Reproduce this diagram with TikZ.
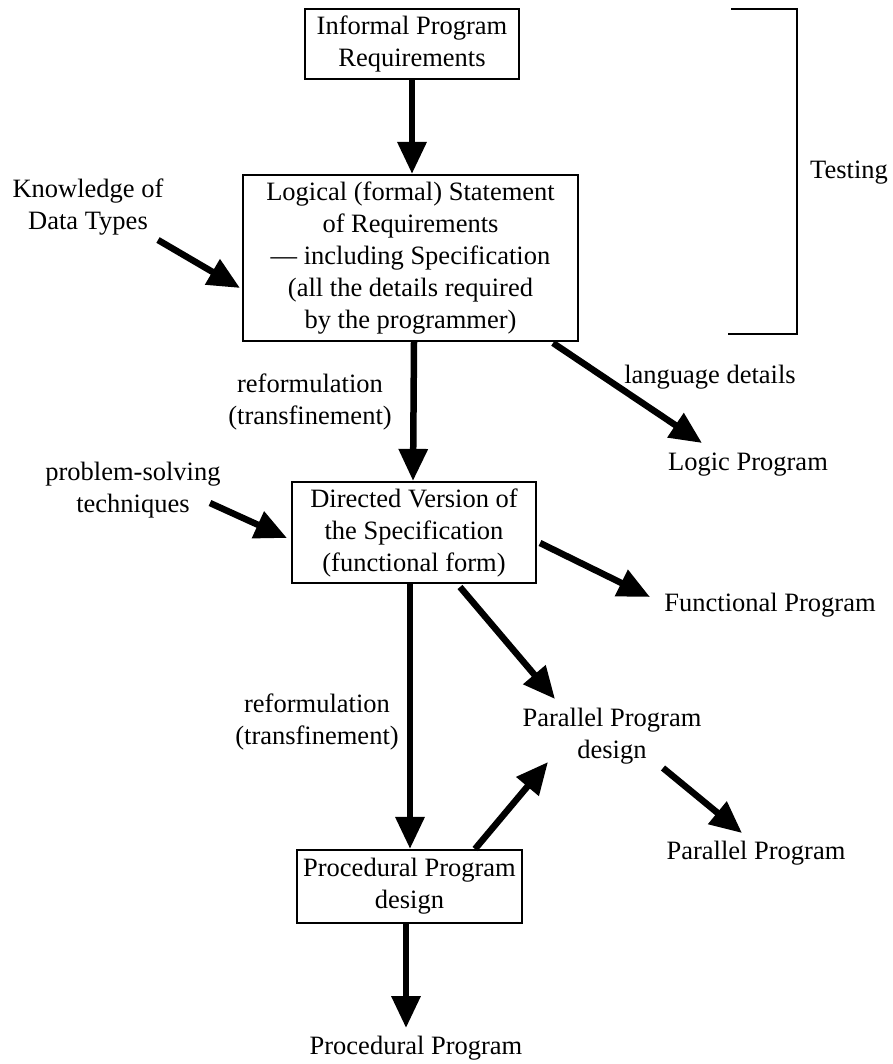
\documentclass[tikz,border=0pt]{standalone}
\usepackage{fontspec}
\setmainfont{Liberation Serif}
\usetikzlibrary{arrows.meta}
\begin{document}
\begin{tikzpicture}[x=1pt,y=-1pt,
  every node/.style={font=\fontsize{26.5}{32}\selectfont, align=center, inner sep=0pt},
  stagebox/.style={draw, line width=2.2pt, minimum width=#1},
  fatarrow/.style={line width=6.5pt, -{Triangle[length=32pt,width=28pt]}},
  bracketline/.style={line width=2.2pt}]
\path[use as bounding box] (0,0) rectangle (892,1064);

% main chain of boxes
\node[stagebox=214pt, minimum height=70pt] (box1) at (412,44)
  {Informal Program\\Requirements};
\node[stagebox=335pt, minimum height=166pt] (box2) at (410.5,258)
  {Logical (formal) Statement\\of Requirements\\— including Specification\\(all the details required\\by the programmer)};
\node[stagebox=244pt, minimum height=101pt] (box3) at (414,532.5)
  {Directed Version of\\the Specification\\(functional form)};
\node[stagebox=225pt, minimum height=73pt] (box4) at (409.5,886.5)
  {Procedural Program\\design};

% free-standing labels
\node (kdt)    at (88,207)   {Knowledge of\\Data Types};
\node (pst)    at (133,490)  {problem-solving\\techniques};
\node (ref1)   at (310,402)  {reformulation\\(transfinement)};
\node (ref2)   at (317,722)  {reformulation\\(transfinement)};
\node (lang)   at (710,377)  {language details};
\node (logic)  at (748,465)  {Logic Program};
\node (func)   at (770,605)  {Functional Program};
\node (pdes)   at (612,736)  {Parallel Program\\design};
\node (par)    at (756,853)  {Parallel Program};
\node (proc)   at (416,1048) {Procedural Program};
\node (test)   at (849,173)  {Testing};

% arrow end points
\coordinate (kOut)  at (158,240);
\coordinate (kIn)   at (240,288);
\coordinate (pOut)  at (210,503);
\coordinate (pIn)   at (287,538);
\coordinate (lOut)  at (553,343);
\coordinate (lIn)   at (702,443);
\coordinate (fOut)  at (540,543);
\coordinate (fIn)   at (650,597);
\coordinate (dOut)  at (460,587);
\coordinate (dIn)   at (555,699);
\coordinate (qOut)  at (475,849);
\coordinate (qIn)   at (548,762);
\coordinate (rOut)  at (663,768);
\coordinate (rIn)   at (742,833);
\coordinate (procIn) at (406,1028);

% connectors
\draw[fatarrow] (box1.south) -- (box1.south |- box2.north);
\draw[fatarrow] (box3.north |- box2.south) -- ([xshift=-1pt]box3.north);
\draw[fatarrow] ([xshift=0.5pt]box3.south -| box4.north) -- ([xshift=0.5pt]box4.north);
\draw[fatarrow] (procIn |- box4.south) -- (procIn);
\draw[fatarrow] (kOut) -- (kIn);
\draw[fatarrow] (pOut) -- (pIn);
\draw[fatarrow] (lOut) -- (lIn);
\draw[fatarrow] (fOut) -- (fIn);
\draw[fatarrow] (dOut) -- (dIn);
\draw[fatarrow] (qOut) -- (qIn);
\draw[fatarrow] (rOut) -- (rIn);

% testing bracket
\coordinate (brTop) at (797,9);
\coordinate (brBot) at (797,334);
\draw[bracketline] (731,9) -- (brTop) -- (brBot) -- (728,334);
\end{tikzpicture}
\end{document}
